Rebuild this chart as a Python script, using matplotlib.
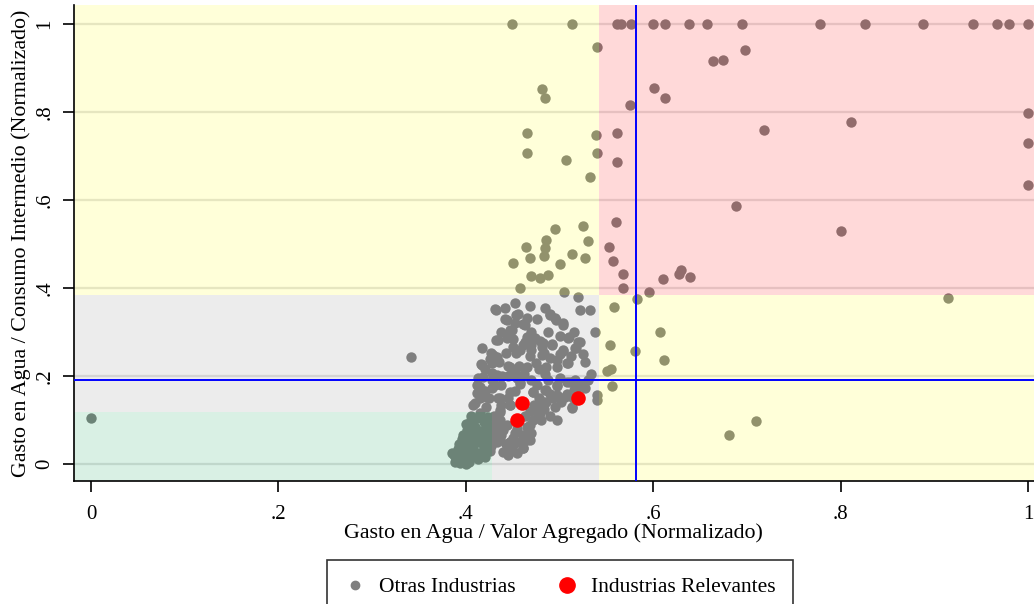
import matplotlib
matplotlib.use("Agg")
import matplotlib.pyplot as plt
from matplotlib.patches import Rectangle
from matplotlib.lines import Line2D

# ---- data -------------------------------------------------------------
# Otras industrias: (gasto agua / valor agregado, gasto agua / consumo intermedio)
otras_x = [
    # fila superior (y = 1)
    0.449, 0.513, 0.561, 0.566, 0.576, 0.600, 0.613, 0.638, 0.657, 0.695,
    0.778, 0.826, 0.888, 0.941, 0.967, 0.980, 1.000,
    # zona alta
    0.540, 0.481, 0.484, 0.575, 0.601, 0.613, 0.664, 0.674, 0.698, 1.000,
    0.718, 0.811, 1.000, 1.000, 0.688, 0.800, 0.915,
    0.465, 0.539, 0.561, 0.465, 0.540, 0.507, 0.561, 0.532, 0.560,
    0.495, 0.525, 0.486, 0.530, 0.464, 0.485, 0.553, 0.513, 0.469, 0.483,
    0.527, 0.450, 0.501, 0.557, 0.470, 0.479, 0.488, 0.568, 0.610, 0.630,
    0.628, 0.639, 0.458, 0.505, 0.568, 0.595, 0.583,
    # zona baja derecha
    0.558, 0.607, 0.554, 0.581, 0.612, 0.551, 0.555, 0.556, 0.710, 0.681,
    # aislados
    0.000, 0.342,
    # nube central
    0.520, 0.452, 0.4685, 0.4845, 0.4315, 0.442, 0.4536, 0.465, 0.476,
    0.522, 0.532, 0.442, 0.490, 0.4963, 0.504, 0.538, 0.447, 0.461,
    0.4436, 0.432, 0.465, 0.479, 0.4917, 0.510, 0.522, 0.461, 0.470,
    0.481, 0.417, 0.427, 0.443, 0.504, 0.518, 0.433, 0.454, 0.483,
    0.426, 0.4354, 0.497, 0.509, 0.5276, 0.416, 0.4454, 0.457, 0.465,
    0.478, 0.486, 0.418, 0.4276, 0.4383, 0.4543, 0.458, 0.497, 0.5077,
    0.522, 0.415, 0.431, 0.4714, 0.486, 0.497, 0.515, 0.5397, 0.540,
    0.4116, 0.422, 0.4365, 0.410, 0.422, 0.4365, 0.447, 0.4757, 0.486,
    0.513, 0.497, 0.479, 0.472, 0.465, 0.4365, 0.440, 0.4525, 0.465,
    0.447, 0.4365, 0.461, 0.447,
    0.456, 0.490, 0.495, 0.504, 0.449, 0.463, 0.463, 0.474, 0.4827,
    0.4917, 0.509, 0.520, 0.5165, 0.4507, 0.470, 0.481, 0.504, 0.497,
    0.5077, 0.447, 0.432, 0.4436, 0.447, 0.4347, 0.4294, 0.417, 0.4276,
    0.433,
    0.4116, 0.415, 0.408, 0.4276, 0.4347, 0.447, 0.4365, 0.4436, 0.447,
    0.433, 0.440, 0.4297, 0.447,
    0.458, 0.472, 0.4845, 0.497, 0.511, 0.4934, 0.506, 0.4827, 0.4757,
    0.513, 0.4685, 0.4614, 0.4685, 0.4507, 0.461,
    0.432, 0.435, 0.438, 0.443, 0.450, 0.455, 0.458, 0.463, 0.468,
    0.473, 0.478, 0.483, 0.490, 0.495, 0.502, 0.508, 0.514, 0.520,
    0.490, 0.480, 0.470, 0.455, 0.445, 0.433, 0.430, 0.438, 0.445,
    0.452, 0.425, 0.420, 0.413, 0.420, 0.428, 0.437, 0.445, 0.452,
    0.462, 0.470, 0.476, 0.488, 0.500, 0.516, 0.530, 0.527, 0.485,
    0.475, 0.468, 0.458, 0.450, 0.438, 0.452, 0.470, 0.488, 0.500,
    0.515, 0.500, 0.490, 0.512, 0.525, 0.534,
    # bloque inferior izquierdo
    0.415, 0.406, 0.419, 0.401, 0.4116, 0.3956, 0.406, 0.419, 0.426,
    0.387, 0.3956, 0.394, 0.4045, 0.415, 0.424,
    0.400, 0.410, 0.420, 0.405, 0.415, 0.425, 0.398, 0.408, 0.418,
    0.400, 0.410, 0.420, 0.390, 0.385, 0.412, 0.424, 0.423, 0.426,
    0.402, 0.393, 0.426, 0.400,
    0.392, 0.397, 0.404, 0.409, 0.414, 0.418, 0.421, 0.427, 0.405,
    0.396, 0.403, 0.413, 0.388, 0.418, 0.427, 0.407, 0.399,
]
otras_y = [
    1.000, 1.000, 1.000, 1.000, 1.000, 1.000, 1.000, 1.000, 1.000, 1.000,
    1.000, 1.000, 1.000, 1.000, 1.000, 1.000, 1.000,
    0.948, 0.852, 0.832, 0.817, 0.854, 0.833, 0.916, 0.918, 0.941, 0.798,
    0.760, 0.777, 0.729, 0.634, 0.586, 0.530, 0.378,
    0.753, 0.747, 0.752, 0.707, 0.708, 0.692, 0.686, 0.652, 0.551,
    0.534, 0.540, 0.509, 0.506, 0.493, 0.490, 0.494, 0.478, 0.469, 0.473,
    0.469, 0.457, 0.454, 0.461, 0.427, 0.422, 0.430, 0.432, 0.421, 0.441,
    0.431, 0.426, 0.400, 0.391, 0.400, 0.392, 0.374,
    0.358, 0.299, 0.270, 0.258, 0.236, 0.212, 0.215, 0.178, 0.097, 0.065,
    0.104, 0.244,
    0.380, 0.367, 0.360, 0.354, 0.352, 0.354, 0.339, 0.333, 0.330,
    0.350, 0.350, 0.329, 0.339, 0.327, 0.316, 0.300, 0.305, 0.318,
    0.286, 0.282, 0.289, 0.280, 0.270, 0.288, 0.277, 0.270, 0.270,
    0.267, 0.264, 0.252, 0.253, 0.257, 0.263, 0.244, 0.252, 0.252,
    0.238, 0.233, 0.236, 0.230, 0.233, 0.227, 0.223, 0.223, 0.221,
    0.215, 0.221, 0.198, 0.206, 0.200, 0.195, 0.183, 0.177, 0.187,
    0.183, 0.176, 0.180, 0.164, 0.168, 0.157, 0.168, 0.157, 0.145,
    0.161, 0.153, 0.149, 0.138, 0.130, 0.123, 0.134, 0.130, 0.142,
    0.127, 0.100, 0.115, 0.100, 0.085, 0.100, 0.077, 0.070, 0.055,
    0.051, 0.055, 0.036, 0.032,
    0.342, 0.342, 0.331, 0.320, 0.305, 0.316, 0.278, 0.286, 0.274,
    0.272, 0.286, 0.278, 0.263, 0.267, 0.259, 0.248, 0.259, 0.221,
    0.229, 0.221, 0.350, 0.327, 0.301, 0.282, 0.248, 0.225, 0.229,
    0.202,
    0.180, 0.149, 0.134, 0.172, 0.149, 0.164, 0.119, 0.089, 0.051,
    0.051, 0.028, 0.073, 0.134,
    0.187, 0.164, 0.168, 0.180, 0.187, 0.149, 0.153, 0.142, 0.119,
    0.130, 0.089, 0.066, 0.055, 0.043, 0.036,
    0.100, 0.085, 0.065, 0.045, 0.060, 0.080, 0.050, 0.110, 0.120,
    0.135, 0.150, 0.125, 0.110, 0.130, 0.140, 0.160, 0.150, 0.175,
    0.160, 0.100, 0.070, 0.025, 0.020, 0.065, 0.110, 0.135, 0.150,
    0.165, 0.150, 0.165, 0.195, 0.215, 0.190, 0.180, 0.200, 0.210,
    0.205, 0.190, 0.180, 0.190, 0.195, 0.190, 0.190, 0.172, 0.205,
    0.230, 0.245, 0.260, 0.285, 0.300, 0.320, 0.300, 0.300, 0.290,
    0.300, 0.250, 0.240, 0.245, 0.250, 0.205,
    0.115, 0.100, 0.096, 0.077, 0.077, 0.058, 0.055, 0.062, 0.047,
    0.020, 0.032, 0.002, 0.013, 0.024, 0.032,
    0.090, 0.085, 0.080, 0.070, 0.068, 0.070, 0.045, 0.040, 0.045,
    0.030, 0.028, 0.015, 0.010, 0.025, 0.105, 0.108, 0.090, 0.058,
    0.020, 0.045, 0.030, 0.000,
    0.035, 0.065, 0.082, 0.060, 0.050, 0.030, 0.100, 0.085, 0.110,
    0.015, 0.005, 0.012, 0.005, 0.070, 0.042, 0.095, 0.055,
]

# Industrias relevantes
relev_x = [0.460, 0.4543, 0.5194]
relev_y = [0.138, 0.100, 0.149]

# Reference lines
ref_x = 0.582
ref_y = 0.190

tick_vals = [0, 0.2, 0.4, 0.6, 0.8, 1.0]
tick_labels = ["0", ".2", ".4", ".6", ".8", "1"]

# ---- figure -----------------------------------------------------------
plt.rcParams["font.family"] = ["Liberation Serif", "DejaVu Serif"]
fig = plt.figure(figsize=(10.34, 6.04), dpi=100)
ax = fig.add_axes([0.0713, 0.2036, 0.9287, 0.7876])

xmin, xmax = -0.0185, 1.0064
ymin, ymax = -0.0386, 1.0425
ax.set_xlim(xmin, xmax)
ax.set_ylim(ymin, ymax)

# grid (under everything)
for t in tick_vals:
    ax.axhline(t, color="#e2e2e2", lw=1.6, zorder=0.5)

# gray points
ax.scatter(otras_x, otras_y, s=56, color="#7f7f7f", linewidths=0, zorder=1)

# translucent quadrant overlays drawn over the gray points
xc, yc = 0.5425, 0.385
gx, gy = 0.428, 0.119
a = 0.15
regions = [
    (xmin, yc, xc - xmin, ymax - yc, (1.0, 1.0, 0.0)),          # top-left
    (xc, ymin, xmax - xc, yc - ymin, (1.0, 1.0, 0.0)),          # bottom-right
    (xc, yc, xmax - xc, ymax - yc, (1.0, 0.0, 0.0)),            # top-right
    (xmin, gy, xc - xmin, yc - gy, (0.5, 0.5, 0.5)),            # gray band
    (gx, ymin, xc - gx, gy - ymin, (0.5, 0.5, 0.5)),            # gray lower
    (xmin, ymin, gx - xmin, gy - ymin, (0.0, 0.61, 0.30)),      # green
]
for x0, y0, w, h, c in regions:
    ax.add_patch(Rectangle((x0, y0), w, h, facecolor=c, alpha=a,
                           edgecolor="none", zorder=2))

# relevant industries
ax.scatter(relev_x, relev_y, s=110, color="#ff0000", linewidths=0, zorder=3)

# reference lines
ax.axvline(ref_x, color="#0000ff", lw=1.4, zorder=4)
ax.axhline(ref_y, color="#0000ff", lw=1.4, zorder=4)

# axes styling
for side in ("top", "right"):
    ax.spines[side].set_visible(False)
for side in ("left", "bottom"):
    ax.spines[side].set_color("black")
    ax.spines[side].set_linewidth(1.2)

ax.set_xticks(tick_vals)
ax.set_xticklabels(tick_labels)
ax.set_yticks(tick_vals)
ax.set_yticklabels(tick_labels, rotation=90, va="center")
ax.tick_params(axis="both", direction="out", length=8, width=1.2,
               labelsize=15, colors="black", pad=6)
ax.tick_params(axis="x", pad=9)

ax.set_xlabel("Gasto en Agua / Valor Agregado (Normalizado)", fontsize=15.8,
              labelpad=0)
ax.set_ylabel("Gasto en Agua / Consumo Intermedio (Normalizado)", fontsize=15.8,
              labelpad=3)

handles = [
    Line2D([], [], ls="none", marker="o", markersize=6, color="#7f7f7f"),
    Line2D([], [], ls="none", marker="o", markersize=11, color="#ff0000"),
]
leg = fig.legend(handles, ["Otras Industrias", "Industrias Relevantes"],
                 ncol=2, loc="upper center", bbox_to_anchor=(0.5416, 0.0728),
                 fontsize=15.5, frameon=True, fancybox=False, borderpad=0.8,
                 borderaxespad=0, columnspacing=1.9, handletextpad=0.6,
                 handlelength=1.0)
leg.get_frame().set_edgecolor("black")
leg.get_frame().set_linewidth(1.2)

fig.savefig("out.png", dpi=100)
